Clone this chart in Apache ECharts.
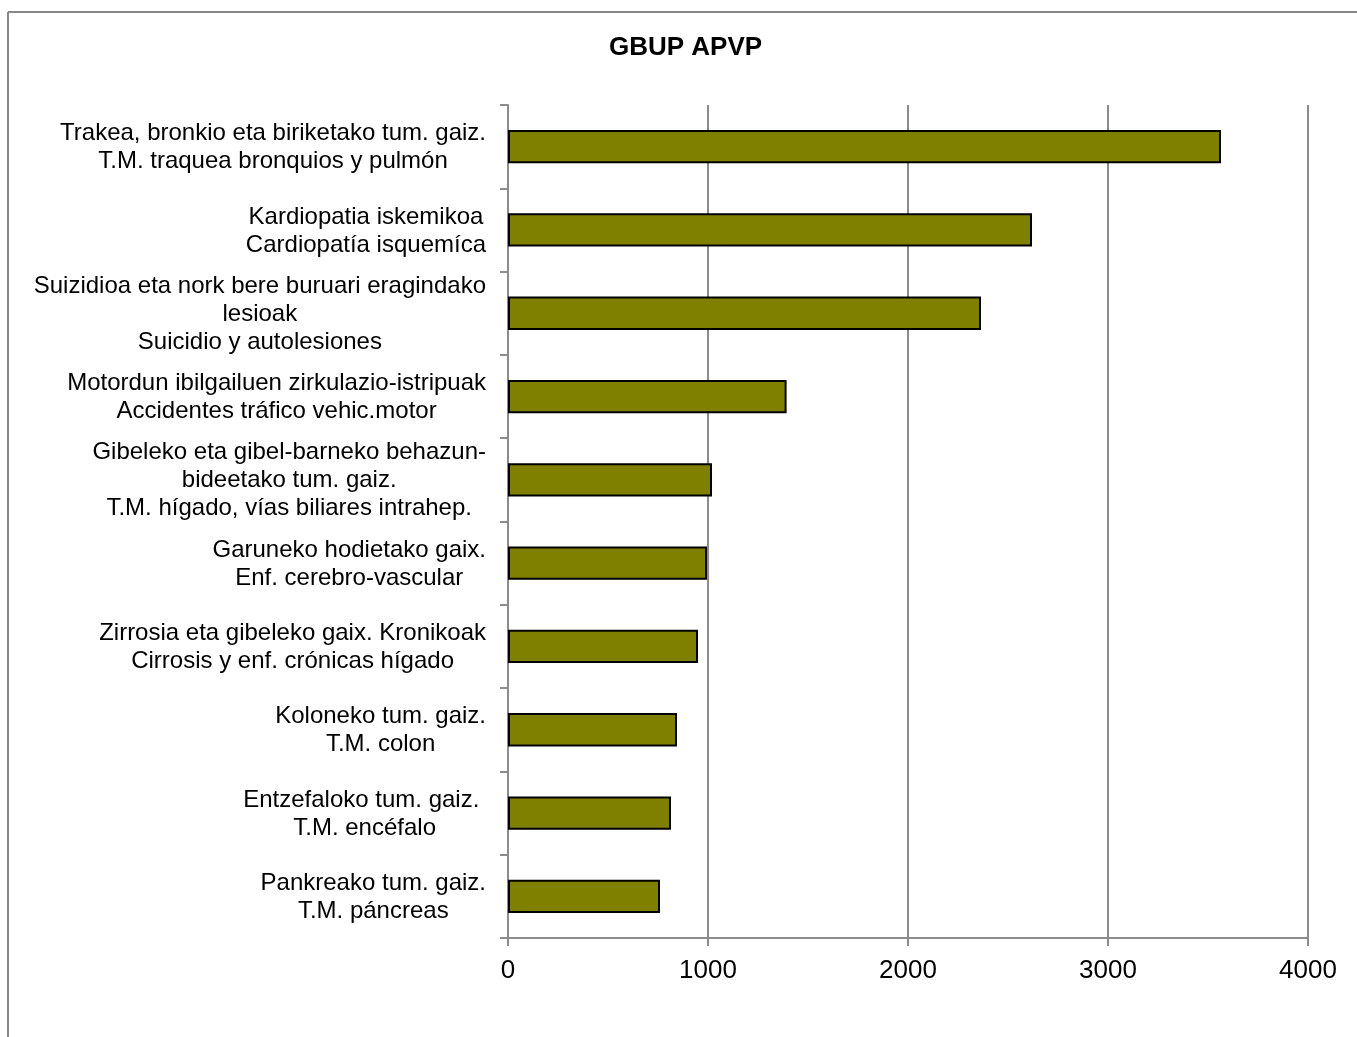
<!DOCTYPE html>
<html>
<head>
<meta charset="utf-8">
<script src="https://cdn.jsdelivr.net/npm/echarts@6/dist/echarts.min.js"></script>
<style>html,body{margin:0;padding:0;background:#fff}#c{width:1357px;height:1037px}</style>
</head>
<body>
<div id="c"></div>
<script>
var titleText = 'GBUP APVP';
var categories = [
  'Trakea, bronkio eta biriketako tum. gaiz.\nT.M. traquea bronquios y pulmón',
  'Kardiopatia iskemikoa\nCardiopatía isquemíca',
  'Suizidioa eta nork bere buruari eragindako\nlesioak\nSuicidio y autolesiones',
  'Motordun ibilgailuen zirkulazio-istripuak\nAccidentes tráfico vehic.motor',
  'Gibeleko eta gibel-barneko behazun-\nbideetako tum. gaiz.\nT.M. hígado, vías biliares intrahep.',
  'Garuneko hodietako gaix.\nEnf. cerebro-vascular',
  'Zirrosia eta gibeleko gaix. Kronikoak\nCirrosis y enf. crónicas hígado',
  'Koloneko tum. gaiz.\nT.M. colon',
  'Entzefaloko tum. gaiz. \nT.M. encéfalo',
  'Pankreako tum. gaiz.\nT.M. páncreas'
];
var values = [3565, 2620, 2365, 1393, 1020, 995, 950, 845, 815, 760];
var xTicks = [0, 1000, 2000, 3000, 4000];

var font = '"Liberation Sans", Arial, sans-serif';
var chart = echarts.init(document.getElementById('c'), null, {renderer: 'canvas'});
chart.setOption({
  backgroundColor: '#fff',
  animation: false,
  title: {
    text: titleText, left: 604, top: 30,
    textStyle: {fontFamily: font, fontSize: 26, fontWeight: 'bold', color: '#000'}
  },
  graphic: [
    {type: 'line', shape: {x1: 8, y1: 12, x2: 1357, y2: 12}, style: {stroke: '#888', lineWidth: 2}},
    {type: 'line', shape: {x1: 8, y1: 12, x2: 8, y2: 1037}, style: {stroke: '#888', lineWidth: 2}}
  ],
  grid: {left: 508, right: 49, top: 105, bottom: 99, containLabel: false},
  xAxis: {
    type: 'value', min: xTicks[0], max: xTicks[xTicks.length - 1], interval: 1000,
    axisLine: {show: true, lineStyle: {color: '#8c8c8c', width: 2}},
    axisTick: {show: true, inside: false, length: 8, lineStyle: {color: '#8c8c8c', width: 2}},
    splitLine: {show: true, lineStyle: {color: '#8c8c8c', width: 2}},
    axisLabel: {fontFamily: font, fontSize: 26, color: '#000', margin: 20,
      formatter: function (v) { return String(v); }}
  },
  yAxis: {
    type: 'category', data: categories, inverse: true,
    axisLine: {show: true, lineStyle: {color: '#8c8c8c', width: 2}},
    axisTick: {show: true, inside: false, length: 8, alignWithLabel: false, lineStyle: {color: '#8c8c8c', width: 2}},
    axisLabel: {
      margin: 22, align: 'right', color: '#000',
      formatter: function (v) {
        return v.split('\n').map(function (l) { return '{c|' + l + '}'; }).join('\n');
      },
      rich: {c: {align: 'center', fontFamily: font, fontSize: 24, lineHeight: 28, color: '#000', padding: [2, 0, 0, 0]}}
    }
  },
  series: [{
    type: 'bar', data: values, barWidth: '40%',
    itemStyle: {color: '#808000', borderColor: '#000', borderWidth: 2}
  }]
});
</script>
</body>
</html>
